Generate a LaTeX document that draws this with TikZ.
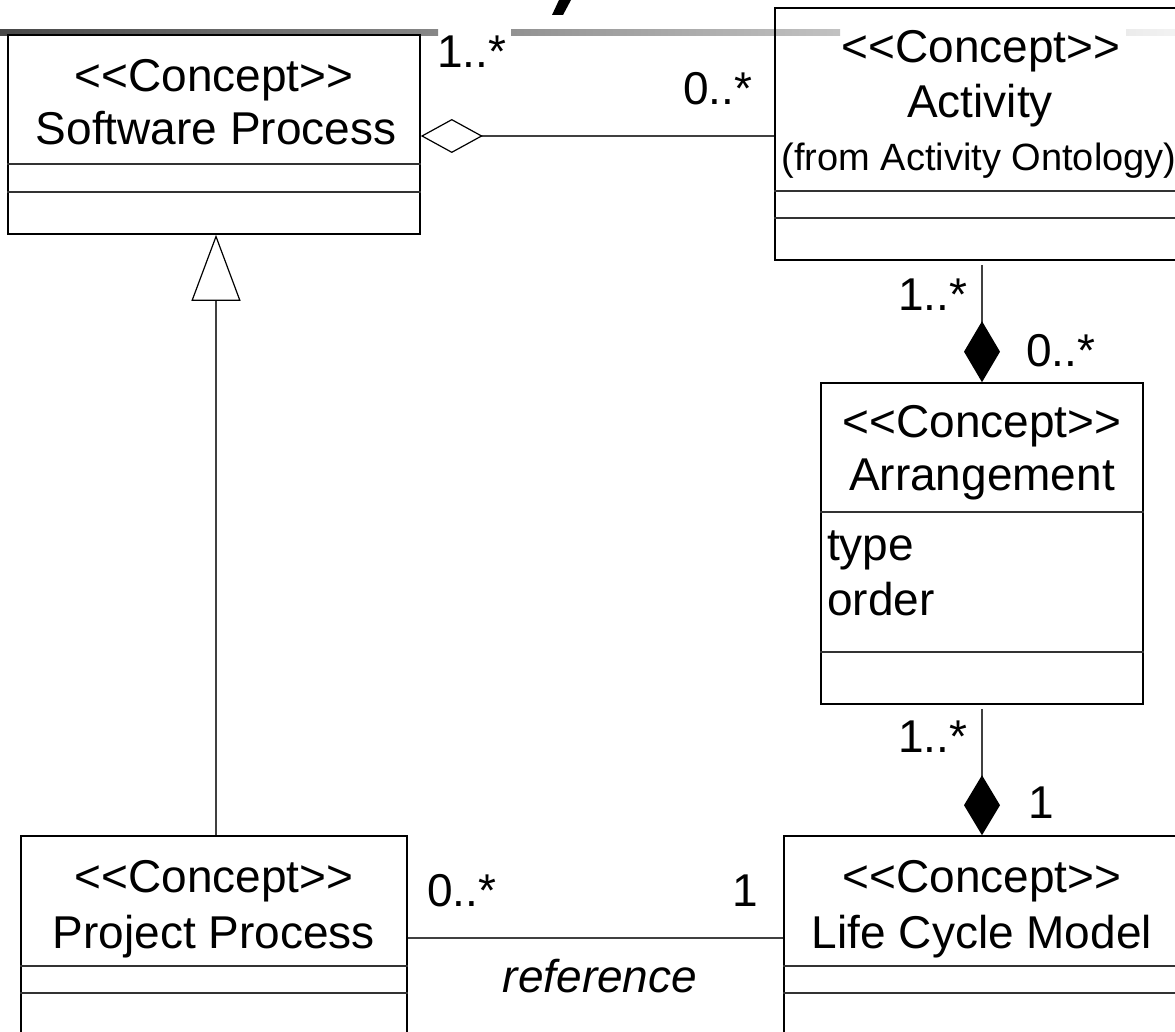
\documentclass[tikz,border=0pt]{standalone}
\usepackage{fontspec}
\setmainfont{Liberation Sans}
\usetikzlibrary{arrows.meta}
\newcommand\dlt{<\kern0pt<}
\newcommand\dgt{>\kern0pt>}
\begin{document}
\begin{tikzpicture}[x=1pt,y=-1pt,
  box/.style={draw=black, line width=1.6pt, inner sep=0pt, fill=none},
  sepline/.style={draw=black!80, line width=1.4pt},
  txt/.style={inner sep=0pt, font=\fontsize{46}{55}\selectfont, anchor=base},
  smalltxt/.style={inner sep=0pt, font=\fontsize{38}{45}\selectfont, anchor=base},
  attr/.style={inner sep=0pt, font=\fontsize{46}{55}\selectfont, anchor=base west},
  mult/.style={inner sep=0pt, font=\fontsize{46}{55}\selectfont, anchor=base west},
  conn/.style={draw=black!75, line width=1.4pt}]
\clip (0,0) rectangle (1175,1032);
\fill[white] (0,0) rectangle (1175,1032);
% title underline bar
\begin{scope}
  \clip (0,29) rectangle (438,37) (511,29) rectangle (840,37) (1126,29) rectangle (1175,37);
  \shade[left color=black!72, right color=black!5] (0,30) rectangle (1175,36);
\end{scope}
% fragment of title letter
\fill[black] (552,15) -- (563,15) -- (571,0) -- (559,0) -- cycle;

% class boxes
\node[box, minimum width=412pt, minimum height=199pt] (sp) at (214,134.5) {};
\node[box, minimum width=410pt, minimum height=252pt] (act) at (980,134) {};
\node[box, minimum width=322pt, minimum height=321pt] (arr) at (982,543.5) {};
\node[box, minimum width=386pt, minimum height=204pt] (pp) at (214,938) {};
\node[box, minimum width=396pt, minimum height=204pt] (lcm) at (982,938) {};

% compartments
\draw[sepline] (sp.west |- 0,164) -- (sp.east |- 0,164);
\draw[sepline] (sp.west |- 0,192) -- (sp.east |- 0,192);
\draw[sepline] (act.west |- 0,191) -- (act.east |- 0,191);
\draw[sepline] (act.west |- 0,218) -- (act.east |- 0,218);
\draw[sepline] (arr.west |- 0,512) -- (arr.east |- 0,512);
\draw[sepline] (arr.west |- 0,652) -- (arr.east |- 0,652);
\draw[sepline] (pp.west |- 0,966) -- (pp.east |- 0,966);
\draw[sepline] (pp.west |- 0,993) -- (pp.east |- 0,993);
\draw[sepline] (lcm.west |- 0,966) -- (lcm.east |- 0,966);
\draw[sepline] (lcm.west |- 0,993) -- (lcm.east |- 0,993);

% texts
\node[txt] (spst) at (214,92) {\dlt Concept\dgt};
\node[txt] (spnm) at (216,145) {Software Process};
\node[txt] (actst) at (981,63) {\dlt Concept\dgt};
\node[txt] (actnm) at (980,118) {Activity};
\node[smalltxt] (actfr) at (979,171) {(from Activity Ontology)};
\node[txt] (arrst) at (982,437) {\dlt Concept\dgt};
\node[txt] (arrnm) at (982,490) {Arrangement};
\node[attr] (arrt) at (827,560) {type};
\node[attr] (arro) at (827,615) {order};
\node[txt] (ppst) at (214,892) {\dlt Concept\dgt};
\node[txt] (ppnm) at (214,948) {Project Process};
\node[txt] (lcst) at (982,892) {\dlt Concept\dgt};
\node[txt] (lcnm) at (982,948) {Life Cycle Model};

% connectors
\draw[conn, -{Diamond[open, color=black, length=62pt, width=34pt, line width=1.2pt]}]
  ([yshift=-2pt]act.west) -- ([yshift=-2pt]act.west -| sp.east);
\draw[conn, -{Diamond[color=black, length=61pt, width=36pt]}]
  ([yshift=-4pt]arr.north |- act.south) -- (arr.north);
\draw[conn, -{Diamond[color=black, length=60pt, width=36pt]}]
  ([yshift=-4pt]arr.south) -- (arr.south |- lcm.north);
\draw[conn, -{Triangle[open, color=black, length=66pt, width=49pt, line width=1.2pt]}]
  ([xshift=2pt]sp.south |- pp.north) -- ([xshift=2pt]sp.south);
\draw[conn] (pp.east) -- (lcm.west);

% multiplicities
\node[mult] (m1) at (437,68) {1..*};
\node[mult] (m2) at (683,105) {0..*};
\node[mult] (m3) at (898,310) {1..*};
\node[mult] (m4) at (1026,366) {0..*};
\node[mult] (m5) at (898,752) {1..*};
\node[mult] (m6) at (1028,818) {1};
\node[mult] (m7) at (427,906) {0..*};
\node[mult] (m8) at (732,906) {1};
\node[txt, font=\fontsize{46}{55}\selectfont\itshape] (ref) at (600,992) {reference};
\end{tikzpicture}
\end{document}
